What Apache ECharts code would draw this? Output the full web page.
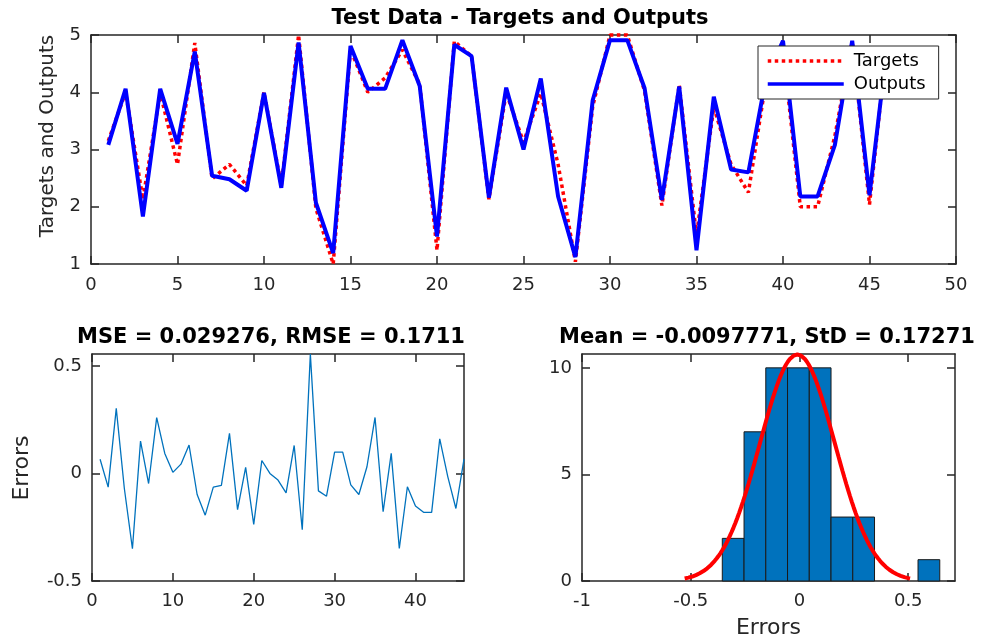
<!DOCTYPE html>
<html>
<head>
<meta charset="utf-8">
<script src="https://cdn.jsdelivr.net/npm/echarts@6/dist/echarts.min.js"></script>
<style>
  html, body { margin: 0; padding: 0; background: #fff; }
  #chart { width: 981px; height: 642px; }
</style>
</head>
<body>
<div id="chart"></div>
<script>
// Test-set sample numbers
const sampleNo = [1,2,3,4,5,6,7,8,9,10,11,12,13,14,15,16,17,18,19,20,21,22,23,
  24,25,26,27,28,29,30,31,32,33,34,35,36,37,38,39,40,41,42,43,44,45,46];

// Desired targets
const targets = [3.15,4.00,2.13,3.99,2.74,4.86,2.49,2.74,2.37,4.00,2.37,5.00,1.97,1.00,
  4.75,4.00,4.25,4.74,4.14,1.24,4.89,4.63,2.13,3.99,3.13,3.98,2.74,1.04,3.75,5.00,
  5.00,4.02,2.02,4.13,1.50,3.74,2.74,2.25,4.16,4.75,2.00,2.00,3.24,4.88,2.04,4.83];

// Network outputs
const outputs = [3.08,4.06,1.83,4.06,3.10,4.71,2.54,2.48,2.28,3.99,2.33,4.87,2.07,1.19,
  4.81,4.06,4.06,4.91,4.11,1.48,4.83,4.63,2.16,4.08,3.00,4.24,2.18,1.12,3.86,4.91,
  4.91,4.07,2.12,4.10,1.24,3.92,2.65,2.60,4.22,4.90,2.18,2.18,3.08,4.90,2.20,4.76];

// Errors (targets - outputs)
const errors = [0.066,-0.064,0.302,-0.070,-0.350,0.150,-0.047,0.259,0.093,0.005,0.043,
  0.132,-0.098,-0.194,-0.064,-0.056,0.186,-0.168,0.028,-0.237,0.060,0.000,-0.031,-0.090,
  0.130,-0.262,0.555,-0.081,-0.106,0.099,0.099,-0.053,-0.098,0.031,0.260,-0.178,0.093,
  -0.349,-0.062,-0.151,-0.181,-0.181,0.161,-0.016,-0.163,0.066];

// Error histogram: bin edges and counts
const binEdges = [-0.355,-0.255,-0.155,-0.055,0.045,0.145,0.245,0.345,0.445,0.545,0.645];
const binCounts = [2,7,10,10,10,3,3,0,0,1];

// Summary statistics shown in the titles
const mse = 0.029276, rmse = 0.1711;
const errMean = -0.0097771, errStd = 0.17271;

// Tick labels
const topXTicks = [0,5,10,15,20,25,30,35,40,45,50];
const topYTicks = [1,2,3,4,5];
const errXTicks = [0,10,20,30,40];
const errYTicks = [-0.5,0,0.5];
const histXTicks = [-1,-0.5,0,0.5];
const histYTicks = [0,5,10];

const FONT = '"DejaVu Sans", sans-serif';
const AX = '#262626';

// Fitted normal curve over mean +/- 3 std, scaled to the histogram counts
const binW = 0.1;
const nSamples = sampleNo.length;
const fitCurve = [];
for (let k = 0; k <= 120; k++) {
  const x = errMean - 3 * errStd + (6 * errStd) * k / 120;
  const z = (x - errMean) / errStd;
  fitCurve.push([x, nSamples * binW * Math.exp(-0.5 * z * z) / (errStd * Math.sqrt(2 * Math.PI))]);
}

function axisBase(extra) {
  return Object.assign({
    type: 'value',
    axisLine: { show: true, onZero: false, lineStyle: { color: AX, width: 1.5 } },
    axisTick: { show: true, inside: true, length: 8, lineStyle: { color: AX, width: 1.5 } },
    splitLine: { show: false },
    axisLabel: { color: AX, fontSize: 18, fontFamily: FONT, margin: 10 }
  }, extra);
}
function mirror(extra) {
  return axisBase(Object.assign({ axisLabel: { show: false } }, extra));
}
function ticksAt(values) {
  return { show: true, inside: true, length: 8, customValues: values, lineStyle: { color: AX, width: 1.5 } };
}
function labelsAt(values, margin) {
  return { color: AX, fontSize: 18, fontFamily: FONT, margin: margin, customValues: values };
}

const grids = [
  { left: 91, top: 35, width: 865, height: 229 },
  { left: 92, top: 354, width: 372, height: 227 },
  { left: 582, top: 354, width: 373, height: 227 }
];

const xAxes = [
  axisBase({ gridIndex: 0, min: 0, max: 50, interval: 5, axisLabel: labelsAt(topXTicks, 12), axisTick: ticksAt(topXTicks) }),
  mirror({ gridIndex: 0, position: 'top', min: 0, max: 50, interval: 5, axisTick: ticksAt(topXTicks) }),
  axisBase({ gridIndex: 1, min: 0, max: 46, interval: 10, axisLabel: labelsAt(errXTicks, 11), axisTick: ticksAt(errXTicks) }),
  mirror({ gridIndex: 1, position: 'top', min: 0, max: 46, interval: 10, axisTick: ticksAt(errXTicks) }),
  axisBase({ gridIndex: 2, min: -1, max: 0.715, interval: 0.5, name: 'Errors', nameLocation: 'middle', nameGap: 36,
    nameTextStyle: { color: AX, fontSize: 22, fontFamily: FONT },
    axisLabel: labelsAt(histXTicks, 11), axisTick: ticksAt(histXTicks) }),
  mirror({ gridIndex: 2, position: 'top', min: -1, max: 0.715, interval: 0.5, axisTick: ticksAt(histXTicks) })
];

const yAxes = [
  axisBase({ gridIndex: 0, min: 1, max: 5, interval: 1, axisLabel: labelsAt(topYTicks, 10), axisTick: ticksAt(topYTicks) }),
  mirror({ gridIndex: 0, position: 'right', min: 1, max: 5, interval: 1, axisTick: ticksAt(topYTicks) }),
  axisBase({ gridIndex: 1, min: -0.5, max: 0.555, interval: 0.5, axisLabel: labelsAt(errYTicks, 10), axisTick: ticksAt(errYTicks) }),
  mirror({ gridIndex: 1, position: 'right', min: -0.5, max: 0.555, interval: 0.5, axisTick: ticksAt(errYTicks) }),
  axisBase({ gridIndex: 2, min: 0, max: 10.65, interval: 5, axisLabel: labelsAt(histYTicks, 10), axisTick: ticksAt(histYTicks) }),
  mirror({ gridIndex: 2, position: 'right', min: 0, max: 10.65, interval: 5, axisTick: ticksAt(histYTicks) })
];

const histData = [];
binCounts.forEach((c, i) => {
  if (c > 0) histData.push([binEdges[i], binEdges[i + 1], c]);
});

const titleStyle = (text) => ({
  text: text, font: 'bold 21px ' + FONT, fill: '#000',
  align: 'center', verticalAlign: 'middle', textAlign: 'center', textVerticalAlign: 'middle'
});

const chart = echarts.init(document.getElementById('chart'), null, { renderer: 'canvas' });
chart.setOption({
  backgroundColor: '#fff',
  animation: false,
  grid: grids,
  xAxis: xAxes,
  yAxis: yAxes,
  legend: {
    orient: 'vertical',
    left: 758, top: 46,
    itemWidth: 76, itemHeight: 14, itemGap: 5,
    padding: [6, 13, 6, 8],
    backgroundColor: '#fff',
    borderColor: AX, borderWidth: 1,
    itemStyle: { opacity: 0 },
    lineStyle: { width: 3.5 },
    textStyle: { color: '#000', fontSize: 18, fontFamily: FONT, padding: [0, 0, 0, 5] },
    data: ['Targets', 'Outputs']
  },
  graphic: [
    { type: 'text', x: 520, y: 19, style: titleStyle('Test Data - Targets and Outputs') },
    { type: 'text', x: 271, y: 338, style: titleStyle('MSE = ' + mse + ', RMSE = ' + rmse) },
    { type: 'text', x: 767, y: 338, style: titleStyle('Mean = ' + errMean + ', StD = ' + errStd) },
    { type: 'text', x: 48, y: 136, rotation: Math.PI / 2, style: { text: 'Targets and Outputs', font: '20px ' + FONT, fill: AX, align: 'center', verticalAlign: 'middle', textAlign: 'center', textVerticalAlign: 'middle' } },
    { type: 'text', x: 22, y: 468, rotation: Math.PI / 2, style: { text: 'Errors', font: '22px ' + FONT, fill: AX, align: 'center', verticalAlign: 'middle', textAlign: 'center', textVerticalAlign: 'middle' } }
  ],
  series: [
    {
      name: 'Targets', type: 'line', xAxisIndex: 0, yAxisIndex: 0,
      data: sampleNo.map((s, i) => [s, targets[i]]),
      symbol: 'none', clip: false, z: 2,
      lineStyle: { color: '#ff0000', width: 3.5, type: [3.5, 3.5] },
      itemStyle: { color: '#ff0000' }
    },
    {
      name: 'Outputs', type: 'line', xAxisIndex: 0, yAxisIndex: 0,
      data: sampleNo.map((s, i) => [s, outputs[i]]),
      symbol: 'none', clip: false, z: 3,
      lineStyle: { color: '#0000ff', width: 4 },
      itemStyle: { color: '#0000ff' }
    },
    {
      name: 'Errors', type: 'line', xAxisIndex: 2, yAxisIndex: 2,
      data: sampleNo.map((s, i) => [s, errors[i]]),
      symbol: 'none', clip: false,
      lineStyle: { color: '#0072BD', width: 1.3 }
    },
    {
      name: 'Histogram', type: 'custom', xAxisIndex: 4, yAxisIndex: 4,
      data: histData,
      encode: { x: [0, 1], y: 2 },
      renderItem: function (params, api) {
        const p0 = api.coord([api.value(0), api.value(2)]);
        const p1 = api.coord([api.value(1), 0]);
        return {
          type: 'rect',
          shape: { x: p0[0], y: p0[1], width: p1[0] - p0[0], height: p1[1] - p0[1] },
          style: { fill: '#0072BD', stroke: '#1a1a1a', lineWidth: 1 }
        };
      }
    },
    {
      name: 'Normal fit', type: 'line', xAxisIndex: 4, yAxisIndex: 4,
      data: fitCurve, symbol: 'none', clip: false, z: 4,
      lineStyle: { color: '#ff0000', width: 4 }
    }
  ]
});
</script>
</body>
</html>
